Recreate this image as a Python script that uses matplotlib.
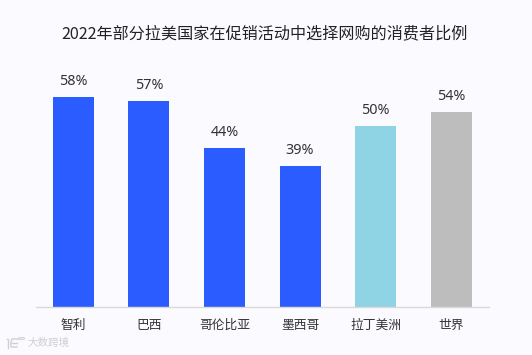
import matplotlib
matplotlib.use("Agg")
import matplotlib.pyplot as plt
from matplotlib.lines import Line2D
from matplotlib.patches import Circle

plt.rcParams['font.family'] = ['Noto Sans CJK SC', 'DejaVu Sans']

title = "2022年部分拉美国家在促销活动中选择网购的消费者比例"
categories = ["智利", "巴西", "哥伦比亚", "墨西哥", "拉丁美洲", "世界"]
values = [58, 57, 44, 39, 50, 54]
colors = ["#2B5CFF", "#2B5CFF", "#2B5CFF", "#2B5CFF", "#8FD4E4", "#BDBDBD"]
bg = "#FBFBFF"
mark = "#CFCFD4"

W, H = 532, 355
fig = plt.figure(figsize=(W / 100, H / 100), dpi=100, facecolor=bg)
ax = fig.add_axes([35.5 / W, 1 - 307 / H, 453.6 / W, 240 / H], facecolor=bg)

x = range(len(categories))
ax.bar(x, values, width=0.54, color=colors)
ax.set_xlim(-0.5, 5.5)
ax.set_ylim(0, 240 / 3.62)
ax.set_xticks(list(x))
ax.set_xticklabels(categories, fontsize=9.2, color="#333333")
ax.tick_params(axis="x", length=0, pad=8.5)
ax.set_yticks([])
for s in ["top", "left", "right"]:
    ax.spines[s].set_visible(False)
ax.spines["bottom"].set_color("#D9D9D9")
ax.spines["bottom"].set_linewidth(1)

for i, v in enumerate(values):
    ax.annotate(f"{v}%", (i, v), xytext=(0, 5.5), textcoords="offset points",
                ha="center", va="bottom", fontsize=10.3, color="#333333",
                family=["Noto Sans", "DejaVu Sans"])

fig.text(264 / W, 1 - 34 / H, title, ha="center", va="center", fontsize=11.6, color="#222222")

# faint watermark in the lower-left corner
fig.text(28 / W, 1 - 343 / H, "大数跨境", ha="left", va="center", fontsize=7.6, color=mark)
fx = lambda p: p / W
fy = lambda p: 1 - p / H
fig.add_artist(Line2D([fx(7), fx(8), fx(8)], [fy(339), fy(339), fy(348)], color=mark, lw=1))
fig.add_artist(Line2D([fx(18), fx(12), fx(11), fx(11), fx(17)],
                      [fy(339), fy(339), fy(342), fy(347), fy(347)], color=mark, lw=1))
fig.add_artist(Line2D([fx(12), fx(17)], [fy(343), fy(343)], color=mark, lw=1))
for cx in (20, 23):
    fig.add_artist(Circle((fx(cx), fy(338.5)), 1.5 / W, fill=False, ec=mark, lw=0.7))

fig.savefig("out.png", dpi=100, facecolor=bg)
